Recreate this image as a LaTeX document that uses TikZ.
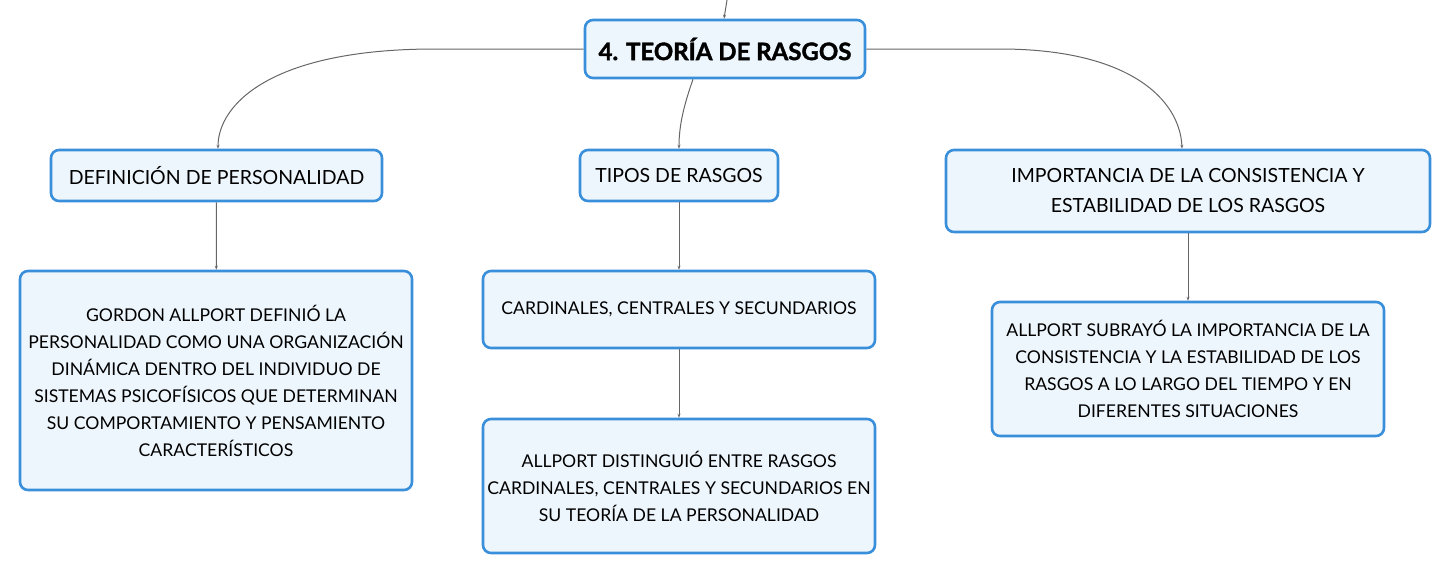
\documentclass[tikz,border=0pt]{standalone}
\usepackage{fontspec}
\setmainfont{Lato}[BoldFeatures={FakeBold=1.6}]
\usetikzlibrary{arrows.meta}
\definecolor{boxfill}{HTML}{EEF6FD}
\definecolor{boxline}{HTML}{3A8FDA}
\definecolor{conn}{HTML}{666666}
\begin{document}
\begin{tikzpicture}[x=1pt,y=-1pt,
  box/.style={draw=boxline,fill=boxfill,line width=2.6pt,rounded corners=8pt,align=center,
    inner sep=0pt,font=\fontsize{17.6}{27}\selectfont},
  midbox/.style={box,font=\fontsize{19.5}{30}\selectfont},
  rootbox/.style={box,font=\fontsize{24}{28}\selectfont\bfseries},
  link/.style={draw=conn,line width=1pt,-{Stealth[length=4pt,width=3pt]}}]
\useasboundingbox (0,0) rectangle (1451,574);
\node[rootbox,minimum width=280pt,minimum height=58pt] (root) at (725,49) {4. TEORÍA DE RASGOS};
\node[midbox,minimum width=331pt,minimum height=51pt] (def) at (216.5,175.5) {DEFINICIÓN DE PERSONALIDAD};
\node[midbox,minimum width=198pt,minimum height=51pt] (tipos) at (679,175.5) {TIPOS DE RASGOS};
\node[midbox,minimum width=484pt,minimum height=82pt] (imp) at (1188,191) {IMPORTANCIA DE LA CONSISTENCIA Y\\ESTABILIDAD DE LOS RASGOS};
\node[box,minimum width=392pt,minimum height=219pt] (gordon) at (216,380.5) {GORDON ALLPORT DEFINIÓ LA\\PERSONALIDAD COMO UNA ORGANIZACIÓN\\DINÁMICA DENTRO DEL INDIVIDUO DE\\SISTEMAS PSICOFÍSICOS QUE DETERMINAN\\SU COMPORTAMIENTO Y PENSAMIENTO\\CARACTERÍSTICOS};
\node[box,minimum width=392pt,minimum height=77pt] (card) at (679,309.5) {CARDINALES, CENTRALES Y SECUNDARIOS};
\node[box,minimum width=392pt,minimum height=134pt] (dist) at (679,486) {ALLPORT DISTINGUIÓ ENTRE RASGOS\\CARDINALES, CENTRALES Y SECUNDARIOS EN\\SU TEORÍA DE LA PERSONALIDAD};
\node[box,minimum width=392pt,minimum height=134pt] (sub) at (1188,369) {ALLPORT SUBRAYÓ LA IMPORTANCIA DE LA\\CONSISTENCIA Y LA ESTABILIDAD DE LOS\\RASGOS A LO LARGO DEL TIEMPO Y EN\\DIFERENTES SITUACIONES};
\coordinate (top) at (727,0);
\draw[link] (top) -- (root.north -| 724,0);
\draw[link] (root.west) -- (435,49) .. controls (270,49) and (218,105) .. (def.north -| 218,0);
\draw[link] (root.east) -- (1000,49) .. controls (1130,49) and (1180,100) .. (imp.north -| 1182,0);
\draw[link] (root.south -| 693,0) .. controls (684,105) and (679,125) .. (tipos.north -| 679,0);
\draw[link] (def) -- (gordon);
\draw[link] (tipos) -- (card);
\draw[link] (card) -- (dist);
\draw[link] (imp) -- (sub);
\end{tikzpicture}
\end{document}
